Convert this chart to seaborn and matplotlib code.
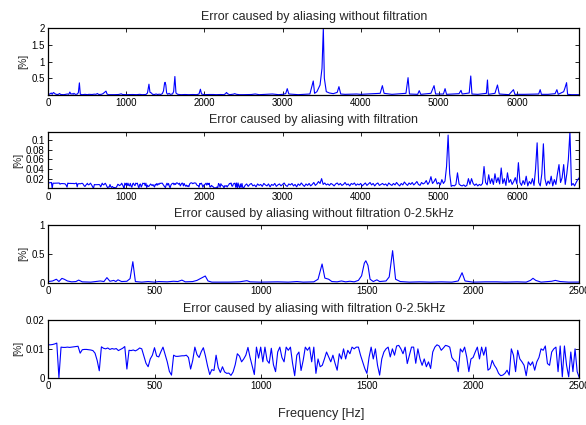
import numpy as np
import pandas as pd
import matplotlib
matplotlib.use("Agg")
import matplotlib.pyplot as plt
import seaborn as sns

# ---------------- data ----------------
titles = [
    "Error caused by aliasing without filtration",
    "Error caused by aliasing with filtration",
    "Error caused by aliasing without filtration 0-2.5kHz",
    "Error caused by aliasing with filtration 0-2.5kHz",
]
xlabel_text = "Frequency [Hz]"
ylabel_text = "[%]"

# error without filtration [%] (irregular frequency points)
freq_nofilt = [
    0, 20, 38, 50, 64, 75, 90, 110, 130, 143, 160, 200, 245, 262, 276, 290, 308, 318, 328, 345,
    370, 385, 398, 410, 440, 470, 500, 520, 560, 590, 610, 629, 645, 680, 700, 725, 739, 752, 770, 850,
    900, 935, 950, 1000, 1080, 1130, 1171, 1200, 1250, 1270, 1289, 1302, 1320, 1335, 1360, 1380, 1400, 1420, 1440, 1460,
    1475, 1488, 1495, 1505, 1515, 1530, 1547, 1560, 1590, 1605, 1621, 1635, 1657, 1700, 1750, 1800, 1850, 1900, 1930, 1948,
    1962, 2000, 2060, 2112, 2150, 2207, 2250, 2270, 2282, 2295, 2320, 2370, 2387, 2410, 2450, 2500,
    2600, 2650, 2700, 2800, 2870, 2950, 3000, 3040, 3060, 3080, 3200, 3350, 3393, 3410, 3440, 3480, 3505, 3522, 3535, 3560,
    3600, 3650, 3700, 3722, 3745, 3800, 3950, 4000, 4250, 4278, 4300, 4400, 4580, 4607, 4625, 4730, 4750, 4770, 4900, 4940,
    4960, 5060, 5081, 5100, 5260, 5285, 5300, 5390, 5410, 5425, 5500, 5610, 5624, 5635, 5720, 5752, 5775, 5900, 5957, 5975,
    6100, 6280, 6299, 6315, 6400, 6490, 6513, 6530, 6600, 6615, 6637, 6650, 6700, 6800,
]
err_nofilt = [
    0.02, 0.03, 0.06, 0.02, 0.075, 0.06, 0.03, 0.015, 0.02, 0.045, 0.015, 0.01, 0.03, 0.02, 0.088, 0.025, 0.04, 0.02, 0.05, 0.02,
    0.025, 0.07, 0.364, 0.02, 0.01, 0.02, 0.01, 0.02, 0.015, 0.025, 0.02, 0.045, 0.015, 0.02, 0.04, 0.09, 0.116, 0.03, 0.01, 0.01,
    0.015, 0.035, 0.015, 0.01, 0.015, 0.01, 0.02, 0.01, 0.015, 0.06, 0.324, 0.08, 0.06, 0.02, 0.015, 0.03, 0.015, 0.025, 0.015, 0.04,
    0.12, 0.34, 0.38, 0.30, 0.06, 0.02, 0.05, 0.02, 0.03, 0.10, 0.555, 0.06, 0.02, 0.01, 0.015, 0.01, 0.015, 0.01, 0.03, 0.173,
    0.03, 0.01, 0.015, 0.015, 0.01, 0.015, 0.01, 0.04, 0.076, 0.04, 0.01, 0.025, 0.04, 0.02, 0.01, 0.01,
    0.015, 0.03, 0.01, 0.02, 0.03, 0.01, 0.02, 0.04, 0.19, 0.03, 0.01, 0.03, 0.42, 0.05, 0.10, 0.30, 0.80, 2.00, 0.50, 0.10,
    0.06, 0.04, 0.08, 0.25, 0.03, 0.02, 0.03, 0.02, 0.05, 0.28, 0.05, 0.02, 0.05, 0.52, 0.03, 0.02, 0.13, 0.02, 0.05, 0.28,
    0.03, 0.03, 0.19, 0.02, 0.04, 0.14, 0.03, 0.06, 0.57, 0.03, 0.02, 0.05, 0.45, 0.02, 0.05, 0.30, 0.03, 0.01, 0.16, 0.02,
    0.02, 0.03, 0.16, 0.02, 0.02, 0.04, 0.16, 0.02, 0.10, 0.20, 0.37, 0.02, 0.01, 0.01,
]

# error with filtration [%], 0-2500 Hz, 10 Hz bins
err_filt_low = [
    0.0114, 0.0114, 0.0115, 0.0117, 0.0120, 0.0000, 0.0106, 0.0105, 0.0105, 0.0106,
    0.0105, 0.0106, 0.0107, 0.0108, 0.0109, 0.0085, 0.0097, 0.0098, 0.0098, 0.0097,
    0.0096, 0.0094, 0.0085, 0.0060, 0.0024, 0.0107, 0.0102, 0.0100, 0.0103, 0.0098,
    0.0101, 0.0099, 0.0101, 0.0094, 0.0098, 0.0102, 0.0108, 0.0030, 0.0095, 0.0094,
    0.0096, 0.0093, 0.0097, 0.0103, 0.0100, 0.0075, 0.0050, 0.0038, 0.0065, 0.0078,
    0.0104, 0.0075, 0.0072, 0.0090, 0.0106, 0.0080, 0.0055, 0.0022, 0.0009, 0.0078,
    0.0074, 0.0074, 0.0075, 0.0076, 0.0076, 0.0078, 0.0070, 0.0030, 0.0060, 0.0106,
    0.0080, 0.0070, 0.0090, 0.0104, 0.0075, 0.0040, 0.0011, 0.0028, 0.0025, 0.0078,
    0.0035, 0.0018, 0.0038, 0.0020, 0.0015, 0.0016, 0.0008, 0.0020, 0.0045, 0.0083,
    0.0075, 0.0055, 0.0065, 0.0078, 0.0105, 0.0070, 0.0040, 0.0011, 0.0106, 0.0068,
    0.0106, 0.0055, 0.0106, 0.0060, 0.0050, 0.0102, 0.0045, 0.0021, 0.0089, 0.0106,
    0.0070, 0.0055, 0.0106, 0.0095, 0.0106, 0.0050, 0.0007, 0.0078, 0.0089, 0.0025,
    0.0060, 0.0106, 0.0095, 0.0106, 0.0055, 0.0106, 0.0015, 0.0065, 0.0038, 0.0043,
    0.0065, 0.0089, 0.0072, 0.0055, 0.0078, 0.0050, 0.0026, 0.0083, 0.0065, 0.0100,
    0.0065, 0.0095, 0.0083, 0.0106, 0.0100, 0.0106, 0.0106, 0.0078, 0.0055, 0.0032,
    0.0015, 0.0070, 0.0106, 0.0065, 0.0100, 0.0043, 0.0009, 0.0065, 0.0089, 0.0100,
    0.0106, 0.0072, 0.0100, 0.0078, 0.0110, 0.0112, 0.0100, 0.0083, 0.0106, 0.0049,
    0.0078, 0.0106, 0.0106, 0.0050, 0.0100, 0.0065, 0.0043, 0.0065, 0.0038, 0.0055,
    0.0032, 0.0089, 0.0106, 0.0114, 0.0110, 0.0095, 0.0103, 0.0112, 0.0110, 0.0106,
    0.0070, 0.0060, 0.0055, 0.0021, 0.0100, 0.0089, 0.0106, 0.0072, 0.0021, 0.0065,
    0.0070, 0.0089, 0.0106, 0.0065, 0.0106, 0.0078, 0.0106, 0.0026, 0.0032, 0.0060,
    0.0043, 0.0032, 0.0015, 0.0007, 0.0009, 0.0015, 0.0026, 0.0009, 0.0100, 0.0078,
    0.0021, 0.0095, 0.0065, 0.0055, 0.0043, 0.0007, 0.0055, 0.0043, 0.0055, 0.0026,
    0.0055, 0.0070, 0.0100, 0.0095, 0.0110, 0.0049, 0.0043, 0.0089, 0.0100, 0.0106,
    0.0021, 0.0110, 0.0003, 0.0110, 0.0043, 0.0003, 0.0089, 0.0021, 0.0100, 0.0021,
    0.0000,
]

# error with filtration [%], 2520-6800 Hz, 20 Hz bins
err_filt_high = [
    0.006, 0.009, 0.004, 0.008, 0.010, 0.005, 0.007, 0.003, 0.009, 0.006,
    0.008, 0.004, 0.010, 0.007, 0.005, 0.009, 0.003, 0.008, 0.006, 0.010,
    0.004, 0.007, 0.009, 0.005, 0.008, 0.011, 0.006, 0.004, 0.009, 0.007,
    0.010, 0.005, 0.008, 0.003, 0.009, 0.006, 0.011, 0.007, 0.004, 0.009,
    0.006, 0.010, 0.005, 0.008, 0.012, 0.006, 0.009, 0.014, 0.010, 0.020,
    0.008, 0.011, 0.007, 0.009, 0.006, 0.010, 0.008, 0.005, 0.009, 0.011,
    0.007, 0.010, 0.006, 0.008, 0.012, 0.007, 0.009, 0.005, 0.010, 0.008,
    0.011, 0.006, 0.009, 0.007, 0.010, 0.005, 0.008, 0.011, 0.006, 0.009,
    0.012, 0.007, 0.010, 0.005, 0.009, 0.011, 0.006, 0.008, 0.010, 0.007,
    0.009, 0.005, 0.011, 0.008, 0.006, 0.010, 0.007, 0.012, 0.008, 0.005,
    0.010, 0.007, 0.013, 0.009, 0.006, 0.011, 0.008, 0.012, 0.007, 0.010,
    0.014, 0.008, 0.006, 0.012, 0.009, 0.011, 0.016, 0.008, 0.013, 0.024,
    0.010, 0.014, 0.020, 0.009, 0.012, 0.007, 0.018, 0.010, 0.015, 0.045,
    0.110, 0.030, 0.004, 0.006, 0.005, 0.008, 0.032, 0.009, 0.006, 0.005,
    0.007, 0.004, 0.006, 0.020, 0.008, 0.020, 0.010, 0.006, 0.009, 0.005,
    0.008, 0.006, 0.010, 0.045, 0.012, 0.007, 0.028, 0.010, 0.020, 0.008,
    0.030, 0.012, 0.022, 0.009, 0.042, 0.010, 0.020, 0.006, 0.032, 0.012,
    0.018, 0.008, 0.014, 0.022, 0.009, 0.053, 0.012, 0.006, 0.016, 0.008,
    0.025, 0.005, 0.014, 0.009, 0.020, 0.006, 0.040, 0.094, 0.012, 0.005,
    0.030, 0.092, 0.020, 0.006, 0.015, 0.009, 0.025, 0.005, 0.018, 0.008,
    0.030, 0.049, 0.012, 0.022, 0.049, 0.008, 0.030, 0.060, 0.117, 0.006,
    0.010, 0.005, 0.012, 0.018, 0.022,
]

freq_filt_low = np.arange(len(err_filt_low)) * 10.0
freq_filt_high = 2520.0 + np.arange(len(err_filt_high)) * 20.0
freq_filt = np.concatenate([freq_filt_low, freq_filt_high])
err_filt = np.concatenate([err_filt_low, err_filt_high])

xticks_full = [0, 1000, 2000, 3000, 4000, 5000, 6000]
xticks_low = [0, 500, 1000, 1500, 2000, 2500]
yticks_p1 = [0.5, 1, 1.5, 2]
ylabels_p1 = ["0.5", "1", "1.5", "2"]
yticks_p2 = [0.02, 0.04, 0.06, 0.08, 0.1]
ylabels_p2 = ["0.02", "0.04", "0.06", "0.08", "0.1"]
yticks_p3 = [0, 0.5, 1]
ylabels_p3 = ["0", "0.5", "1"]
yticks_p4 = [0, 0.01, 0.02]
ylabels_p4 = ["0", "0.01", "0.02"]

df_nf = pd.DataFrame({"freq": freq_nofilt, "err": err_nofilt})
df_f = pd.DataFrame({"freq": freq_filt, "err": err_filt})

# ---------------- style ----------------
sns.set_theme(style="ticks")
plt.rcParams['font.family'] = ['Liberation Sans', 'DejaVu Sans']
plt.rcParams['axes.edgecolor'] = 'black'

fig = plt.figure(figsize=(5.86, 4.25), dpi=100)
W, H = 586.0, 425.0
left, right = 48.3, 579.3
boxes = [(28.3, 95.0), (131.7, 188.3), (225.0, 282.7), (320.0, 377.7)]

panels = [
    (df_nf, (0, 6800), xticks_full, (0, 2.0), yticks_p1, ylabels_p1),
    (df_f, (0, 6800), xticks_full, (0, 0.117), yticks_p2, ylabels_p2),
    (df_nf, (0, 2500), xticks_low, (0, 1.0), yticks_p3, ylabels_p3),
    (df_f, (0, 2500), xticks_low, (0, 0.02), yticks_p4, ylabels_p4),
]

for i, ((top, bot), (df, xl, xt, yl, yt, ytl)) in enumerate(zip(boxes, panels)):
    ax = fig.add_axes([left / W, 1 - bot / H, (right - left) / W, (bot - top) / H])
    sns.lineplot(data=df, x="freq", y="err", ax=ax, color=(0, 0, 1), linewidth=0.8)
    ax.set_xlim(*xl)
    ax.set_ylim(*yl)
    ax.set_xticks(xt)
    ax.set_xticklabels([str(v) for v in xt])
    ax.set_yticks(yt)
    ax.set_yticklabels(ytl)
    ax.set_xlabel("")
    ax.set_ylabel(ylabel_text, fontsize=7.5, labelpad=2)
    ax.set_title(titles[i], fontsize=9, pad=6)
    ax.tick_params(direction='in', top=True, right=True, length=3, width=0.6,
                   labelsize=7, pad=2.5, colors='black')
    for s in ax.spines.values():
        s.set_linewidth(0.9)
        s.set_color('black')

fig.text(321 / W, 1 - 414 / H, xlabel_text, ha='center', va='center', fontsize=9.2)

fig.savefig("out.png", dpi=100)
